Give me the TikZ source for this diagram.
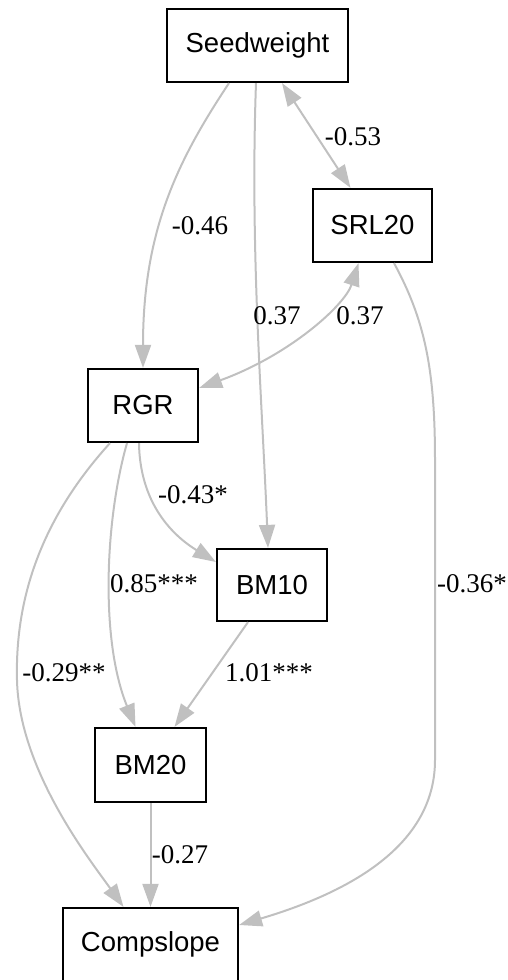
\documentclass[tikz,border=0pt]{standalone}
\usepackage{fontspec}
\setmainfont{Liberation Serif}
\newfontfamily\boxfont{Liberation Sans}
\usetikzlibrary{arrows.meta}
\definecolor{edgegray}{RGB}{192,192,192}
\begin{document}
\begin{tikzpicture}[x=1pt,y=-1pt,
 box/.style={draw=black,line width=2.2pt,inner sep=0pt,font=\boxfont\fontsize{27.5}{30}\selectfont},
 edge/.style={draw=edgegray,line width=2pt,-{Triangle[length=23pt,width=16pt]}},
 bedge/.style={draw=edgegray,line width=2pt,{Triangle[length=23pt,width=16pt]}-{Triangle[length=23pt,width=16pt]}},
 lab/.style={font=\fontsize{27}{30}\selectfont,inner sep=0pt}]
\useasboundingbox (0,0) rectangle (508,980);
\node[box,minimum width=181pt,minimum height=73pt] (seed) at (257.5,45.5) {Seedweight};
\node[box,minimum width=119pt,minimum height=73pt] (srl) at (372.5,225.5) {SRL20};
\node[box,minimum width=110pt,minimum height=73pt] (rgr) at (143,405.5) {RGR};
\node[box,minimum width=110pt,minimum height=72pt] (bm10) at (272,585) {BM10};
\node[box,minimum width=111pt,minimum height=74pt] (bm20) at (150.5,765) {BM20};
\node[box,minimum width=175pt,minimum height=73pt] (comp) at (150.5,944.5) {Compslope};

\draw[edge] ([xshift=-28.5pt]seed.south) .. controls (178,160) and (143,230) .. (rgr.north);
\draw[edge] ([xshift=-1.5pt]seed.south) .. controls (250,250) and (262,400) .. ([xshift=-4pt]bm10.north);
\draw[bedge] ([xshift=24.5pt]seed.south) -- ([xshift=-22pt]srl.north);
\draw[bedge] ([xshift=-14pt]srl.south) .. controls (345,305) and (290,355) .. ([yshift=17.5pt]rgr.east);
\draw[edge] ([xshift=21.5pt]srl.south) .. controls (425,320) and (435,370) .. (435,460) -- (435,760) .. controls (435,850) and (340,895) .. ([yshift=19.5pt]comp.east);
\draw[edge] ([xshift=-4pt]rgr.south) .. controls (140,510) and (180,540) .. ([yshift=23pt]bm10.west);
\draw[edge] ([xshift=-16pt]rgr.south) .. controls (105,520) and (100,640) .. ([xshift=-15pt]bm20.north);
\draw[edge] ([xshift=-33pt]rgr.south) .. controls (40,520) and (15,600) .. (17,680) .. controls (19,770) and (90,860) .. ([xshift=-27pt]comp.north);
\draw[edge] ([xshift=-24pt]bm10.south) -- ([xshift=24pt]bm20.north);
\draw[edge] (bm20.south) -- (comp.north);

\node[lab] (l1) at (353,137) {-0.53};
\node[lab] (l2) at (200,226) {-0.46};
\node[lab] (l3) at (277,316) {0.37};
\node[lab] (l4) at (360,316) {0.37};
\node[lab] (l5) at (193,495) {-0.43*};
\node[lab] (l6) at (154,584) {0.85***};
\node[lab] (l7) at (472,584) {-0.36*};
\node[lab] (l8) at (64,673) {-0.29**};
\node[lab] (l9) at (269,673) {1.01***};
\node[lab] (l10) at (180,855) {-0.27};
\end{tikzpicture}
\end{document}
